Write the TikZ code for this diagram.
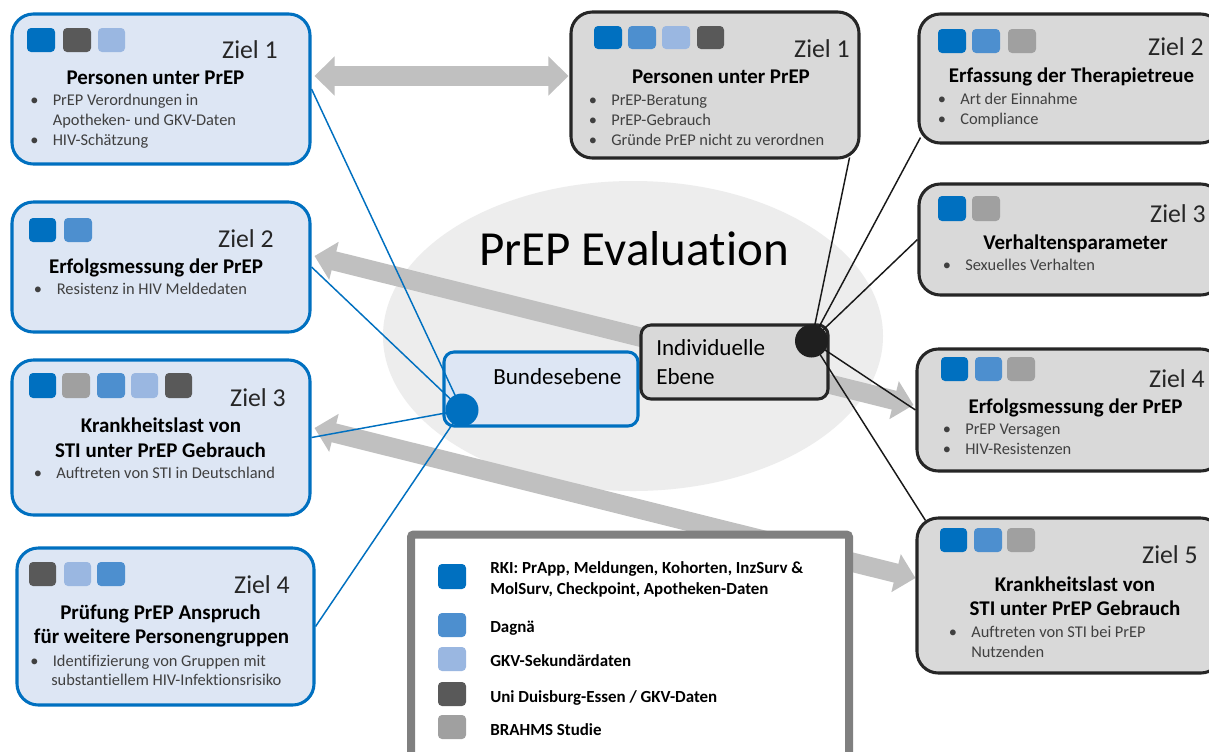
\documentclass[tikz,border=0pt]{standalone}
\usepackage{fontspec}
\setmainfont{Carlito}[Ligatures=NoCommon]
\usetikzlibrary{arrows.meta,calc,shapes.geometric}
\definecolor{cBlue}{HTML}{0070C0}
\definecolor{cMid}{HTML}{4D8FCF}
\definecolor{cLight}{HTML}{9AB7E1}
\definecolor{cDark}{HTML}{595959}
\definecolor{cGray}{HTML}{A0A0A0}
\definecolor{fBlue}{HTML}{DDE6F4}
\definecolor{fGray}{HTML}{D9D9D9}
\definecolor{cEll}{HTML}{EDEDED}
\definecolor{cArr}{HTML}{C0C0C0}
\definecolor{cBorder}{HTML}{262626}
\definecolor{cLeg}{HTML}{808080}
\definecolor{cTxt}{HTML}{404040}
\pgfdeclarelayer{bgg}
\pgfdeclarelayer{bg}
\pgfdeclarelayer{fg}
\pgfsetlayers{bgg,bg,main,fg}
\newcommand\mysq[5]{\fill[#5, rounded corners=3pt] (#1,#2) rectangle (#3,#4);}
\newcommand\bitem[5]{\node[bdot] (#1d) at (#2,#4) {\textbullet}; \node[bt] (#1) at (#3,#4) {#5};}
\begin{document}
\begin{tikzpicture}[x=0.75pt,y=-0.75pt,
  sz/.style 2 args={minimum width=#1*0.75pt, minimum height=#2*0.75pt},
  bluebox/.style={draw=cBlue, line width=2.3pt, fill=fBlue, rounded corners=16pt, inner sep=0pt},
  graybox/.style={draw=cBorder, line width=2.3pt, fill=fGray, rounded corners=16pt, inner sep=0pt},
  ziel/.style={anchor=base east, inner sep=0pt, text=cBorder, font=\fontsize{19.3}{22}\selectfont},
  ttl/.style={anchor=base, inner sep=0pt, font=\fontsize{15.7}{19}\selectfont\bfseries},
  bt/.style={anchor=base west, inner sep=0pt, text=cTxt, font=\fontsize{12.3}{14}\selectfont},
  bdot/.style={anchor=base, inner sep=0pt, text=cTxt, font=\fontsize{12.3}{14}\selectfont},
  lt/.style={anchor=base west, inner sep=0pt, font=\fontsize{12.7}{15}\selectfont\bfseries},
  lvl/.style={anchor=base west, inner sep=0pt, font=\fontsize{17.3}{20}\selectfont},
  bigarrow/.style={draw=cArr, line width=14.5pt, {Triangle[width=28.5pt,length=15pt]}-{Triangle[width=28.5pt,length=15pt]}},
  blueline/.style={draw=cBlue, line width=1.1pt},
  blackline/.style={draw=black!90, line width=1.1pt}]
\useasboundingbox (0,0) rectangle (1209,751);
\clip (0,0) rectangle (1209,751);
\begin{pgfonlayer}{bgg}
\fill[white] (0,0) rectangle (1209,751);
\node[ellipse, fill=cEll, sz={500}{310}, inner sep=0pt] (ell) at (633,336) {};
\end{pgfonlayer}

% ---------- boxes ----------
\node[bluebox, sz={298}{150}] (L1) at (161,89) {};
\node[bluebox, sz={298}{130}] (L2) at (161,267) {};
\node[bluebox, sz={298}{155}] (L3) at (161,437.5) {};
\node[bluebox, sz={297}{157}] (L4) at (165.5,626.5) {};
\node[graybox, sz={288}{146}] (M1) at (715,85) {};
\node[graybox, sz={303}{129}] (R1) at (1070.5,78.5) {};
\node[graybox, sz={303}{111}] (R2) at (1070.5,239.5) {};
\node[graybox, sz={305}{122}] (R3) at (1069.5,410) {};
\node[graybox, sz={305}{155}] (R4) at (1069.5,595.5) {};
\node[bluebox, rounded corners=7.5pt, sz={194}{74}] (BU) at (541,389) {};
\node[graybox, rounded corners=7.5pt, sz={187}{74}] (IN) at (734.5,362) {};
\node[draw=cLeg, line width=6pt, fill=white, rounded corners=2pt, sz={438}{240}, inner sep=0pt] (LEG) at (630,654.5) {};

% ---------- big gray arrows ----------
\begin{pgfonlayer}{bg}
\draw[bigarrow] ($(L1.east)+(3,-13)$) -- ($(M1.west)+(-1,-9)$);
\draw[bigarrow] ($(L2.east)+(3,-11)$) -- ($(R3.west)+(-2,-5)$);
\draw[bigarrow] ($(L3.east)+(3,-9.5)$) -- ($(R4.west)+(0,-17.5)$);
\end{pgfonlayer}

% ---------- colour squares ----------
\mysq{27}{28}{55}{52}{cBlue}\mysq{63}{28}{91}{52}{cDark}\mysq{98}{28}{125}{52}{cLight}
\mysq{29}{218}{56}{242}{cBlue}\mysq{64}{218}{92}{242}{cMid}
\mysq{29}{373}{56}{398}{cBlue}\mysq{62}{373}{90}{398}{cGray}\mysq{97}{373}{125}{398}{cMid}\mysq{131}{373}{158}{398}{cLight}\mysq{165}{373}{192}{398}{cDark}
\mysq{29}{562}{56}{586}{cDark}\mysq{64}{562}{91}{586}{cLight}\mysq{97}{562}{125}{586}{cMid}
\mysq{594}{26}{622}{49}{cBlue}\mysq{628}{26}{656}{49}{cMid}\mysq{662}{26}{690}{49}{cLight}\mysq{697}{26}{724}{49}{cDark}
\mysq{938}{29}{966}{53}{cBlue}\mysq{972}{29}{1000}{53}{cMid}\mysq{1008}{29}{1036}{53}{cGray}
\mysq{938}{196}{966}{221}{cBlue}\mysq{972}{196}{1000}{221}{cGray}
\mysq{941}{357}{968}{381}{cBlue}\mysq{975}{357}{1002}{381}{cMid}\mysq{1007}{357}{1035}{381}{cGray}
\mysq{940}{528}{967}{552}{cBlue}\mysq{974}{528}{1002}{552}{cMid}\mysq{1007}{528}{1035}{552}{cGray}

% ---------- texts left ----------
\node[ziel] (L1z) at (278,58) {Ziel 1};
\node[ttl] (L1t) at (155.5,84) {Personen unter PrEP};
\bitem{L1a}{34.4}{52.5}{105}{PrEP Verordnungen in}
\node[bt] (L1b) at (52.5,125) {Apotheken- und GKV-Daten};
\bitem{L1c}{34.4}{52.5}{145}{HIV-Schätzung}

\node[ziel] (L2z) at (274,247) {Ziel 2};
\node[ttl] (L2t) at (156,273) {Erfolgsmessung der PrEP};
\bitem{L2a}{38}{56.6}{294}{Resistenz in HIV Meldedaten}

\node[ziel] (L3z) at (286,406) {Ziel 3};
\node[ttl] (L3t) at (161,432) {Krankheitslast von};
\node[ttl] (L3u) at (160.5,457) {STI unter PrEP Gebrauch};
\bitem{L3a}{38}{56}{478}{Auftreten von STI in Deutschland}

\node[ziel] (L4z) at (290,593) {Ziel 4};
\node[ttl] (L4t) at (160.5,619) {Prüfung PrEP Anspruch};
\node[ttl] (L4u) at (161.5,643) {für weitere Personengruppen};
\bitem{L4a}{34.5}{52.6}{666}{Identifizierung von Gruppen mit}
\node[bt] (L4b) at (51,685) {substantiellem HIV-Infektionsrisiko};

% ---------- texts right ----------
\node[ziel] (M1z) at (850,57) {Ziel 1};
\node[ttl] (M1t) at (721,83) {Personen unter PrEP};
\bitem{M1a}{593}{611}{105}{PrEP-Beratung}
\bitem{M1b}{593}{611}{125}{PrEP-Gebrauch}
\bitem{M1c}{593}{611}{145}{Gründe PrEP nicht zu verordnen}

\node[ziel] (R1z) at (1204,55) {Ziel 2};
\node[ttl] (R1t) at (1071.5,82) {Erfassung der Therapietreue};
\bitem{R1a}{942}{960}{104}{Art der Einnahme}
\bitem{R1b}{942}{960}{124}{Compliance}

\node[ziel] (R2z) at (1206,222) {Ziel 3};
\node[ttl] (R2t) at (1075.5,249) {Verhaltensparameter};
\bitem{R2a}{947}{965}{270}{Sexuelles Verhalten}

\node[ziel] (R3z) at (1205,387) {Ziel 4};
\node[ttl] (R3t) at (1075.5,413) {Erfolgsmessung der PrEP};
\bitem{R3a}{947}{965}{434}{PrEP Versagen}
\bitem{R3b}{947}{965}{454}{HIV-Resistenzen}

\node[ziel] (R4z) at (1198,563) {Ziel 5};
\node[ttl] (R4t) at (1075,591) {Krankheitslast von};
\node[ttl] (R4u) at (1075,615) {STI unter PrEP Gebrauch};
\bitem{R4a}{953}{971}{637}{Auftreten von STI bei PrEP}
\node[bt] (R4b) at (971,657) {Nutzenden};

% ---------- centre ----------
\node[anchor=base, inner sep=0pt, font=\fontsize{36.75}{40}\selectfont] (TIT) at (634,265) {PrEP Evaluation};
\node[lvl] (BUt) at (493,384) {Bundesebene};
\node[lvl] (INt) at (656,355) {Individuelle};
\node[lvl] (INu) at (656,384) {Ebene};

% ---------- legend ----------
\mysq{438}{564}{466}{589}{cBlue}
\mysq{438}{613}{466}{637}{cMid}
\mysq{438}{647}{466}{671}{cLight}
\mysq{438}{682}{466}{706}{cDark}
\mysq{438}{715}{466}{739}{cGray}
\node[lt] (LG1) at (490,573) {RKI: PrApp, Meldungen, Kohorten, InzSurv \&};
\node[lt] (LG1b) at (490,594) {MolSurv, Checkpoint, Apotheken-Daten};
\node[lt] (LG2) at (490,632) {Dagnä};
\node[lt] (LG3) at (490,666) {GKV-Sekundärdaten};
\node[lt] (LG4) at (490,702) {Uni Duisburg-Essen / GKV-Daten};
\node[lt] (LG5) at (490,735) {BRAHMS Studie};

% ---------- hubs and connectors ----------
\begin{pgfonlayer}{fg}
\node[circle, fill=cBlue, sz={33}{33}, inner sep=0pt] (BC) at (462,410) {};
\node[circle, fill=black!88, sz={33}{33}, inner sep=0pt] (BK) at (811.5,341) {};
\end{pgfonlayer}
\draw[blueline] (L1.east) -- (BC.center);
\draw[blueline] (L2.east) -- (BC.center);
\draw[blueline] (L3.east) -- (BC.center);
\draw[blueline] (L4.east) -- (BC.center);
\draw[blackline] (BK.center) -- ($(M1.south east)+(-11,-2)$);
\draw[blackline] (BK.center) -- ($(R1.south west)+(3,-7)$);
\draw[blackline] (BK.center) -- (R2.west);
\draw[blackline] (BK.center) -- (R3.west);
\draw[blackline] (BK.center) -- ($(R4.north west)+(10,4)$);
\end{tikzpicture}
\end{document}
